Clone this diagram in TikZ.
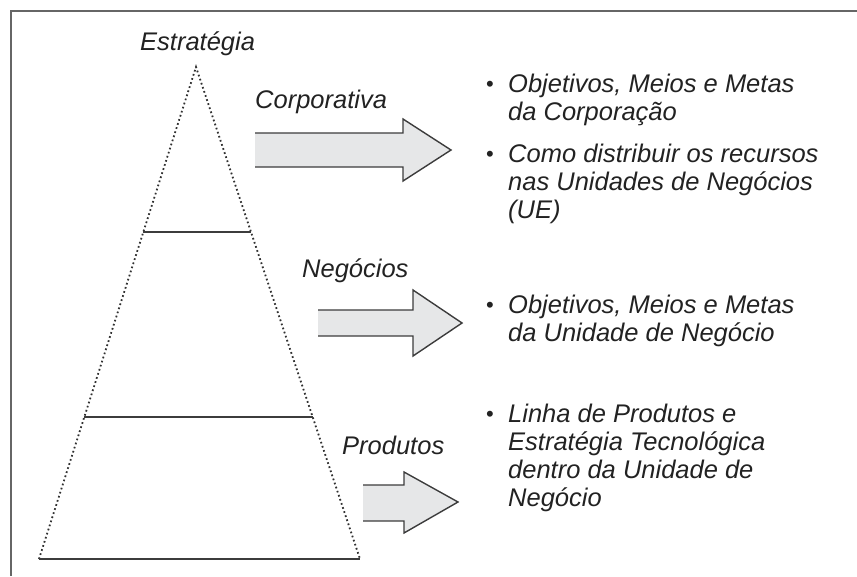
\documentclass[tikz,border=0pt]{standalone}
\usepackage{fontspec}
\setmainfont{Liberation Sans}
\usetikzlibrary{calc}
\definecolor{inkgray}{HTML}{222222}
\definecolor{linegray}{HTML}{3C3C3C}
\definecolor{framegray}{HTML}{666666}
\definecolor{arrowgray}{HTML}{E6E7E8}
\tikzset{
  lbl/.style={anchor=base west, inner sep=0pt, text=inkgray,
    font=\fontsize{25.5}{28.3}\selectfont\itshape},
  bul/.style={anchor=base, inner sep=0pt, text=inkgray,
    font=\fontsize{22}{22}\selectfont},
  blockarrow/.style={draw=linegray, fill=arrowgray, line width=1.4pt, line join=miter},
  level/.style={draw=linegray, line width=1.5pt},
  side/.style={draw=linegray!80!black, line width=1.8pt, dash pattern=on 1.7pt off 2.6pt},
}
\newcommand{\itemlines}[1]{\parbox[t]{340pt}{\raggedright #1}}
\begin{document}
\begin{tikzpicture}[x=1pt,y=-1pt]
      \useasboundingbox (0,0) rectangle (857,576);
      \draw[framegray, line width=1.3pt] (11,576) -- (11,11) -- (857,11);
      \coordinate (apex) at (196,67);
      \coordinate (bl) at (39,559);
      \coordinate (br) at (360,559);
      \coordinate (ul) at ($(apex)!0.3354!(bl)$);
      \coordinate (ur) at ($(apex)!0.3354!(br)$);
      \coordinate (ml) at ($(apex)!0.7114!(bl)$);
      \coordinate (mr) at ($(apex)!0.7114!(br)$);
      \draw[side] (bl) -- (apex) -- (br);
      \draw[level] (ul) -- (ur);
      \draw[level] (ml) -- (mr);
      \draw[level] (bl) -- (br);
      \node[lbl] (estr) at (140,50) {Estratégia};
      \node[lbl] (corp) at (255,108) {Corporativa};
      \node[lbl] (neg) at (302,277) {Negócios};
      \node[lbl] (prod) at (342,454) {Produtos};
      \draw[blockarrow] (255,133) -- (403,133) -- (403,119) -- (451,150) -- (403,181) -- (403,167) -- (255,167);
      \draw[blockarrow] (318,310) -- (413,310) -- (413,290) -- (462,323) -- (413,356) -- (413,336) -- (318,336);
      \draw[blockarrow] (363,485) -- (404,485) -- (404,472) -- (458,502) -- (404,533) -- (404,521) -- (363,521);
      \node[bul] (b1) at (490,91) {•};
      \node[bul] (b2) at (490,161) {•};
      \node[bul] (b3) at (490,312) {•};
      \node[bul] (b4) at (490,421) {•};
      \node[lbl] (corpitem) at (508,92) {\itemlines{Objetivos, Meios e Metas\\da Corporação}};
      \node[lbl] (recitem) at (508,162) {\itemlines{Como distribuir os recursos\\nas Unidades de Negócios\\(UE)}};
      \node[lbl] (negitem) at (508,313) {\itemlines{Objetivos, Meios e Metas\\da Unidade de Negócio}};
      \node[lbl] (proditem) at (508,422) {\itemlines{Linha de Produtos e\\Estratégia Tecnológica\\dentro da Unidade de\\Negócio}};
    \end{tikzpicture}
\end{document}
